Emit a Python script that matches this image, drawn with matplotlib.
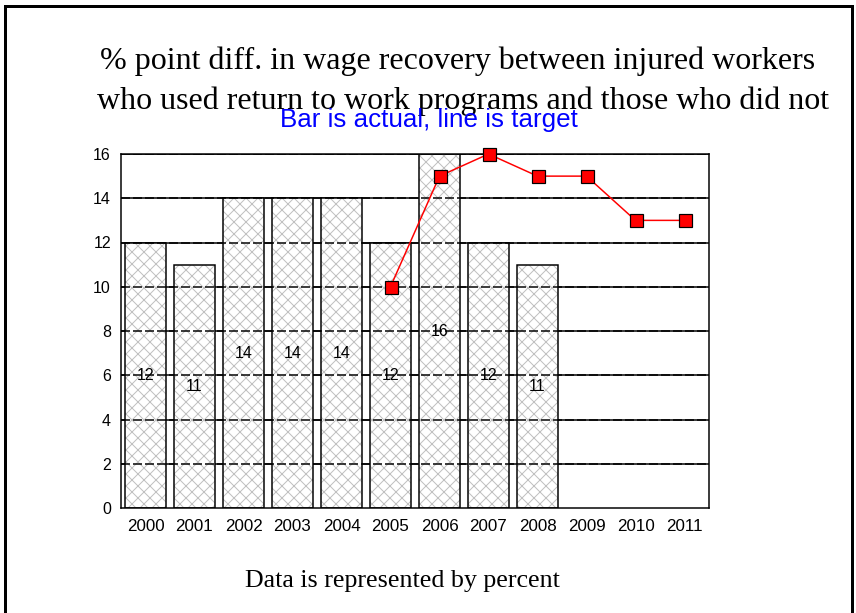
import matplotlib.pyplot as plt
from matplotlib.lines import Line2D

years = ['2000', '2001', '2002', '2003', '2004', '2005', '2006',
         '2007', '2008', '2009', '2010', '2011']
actual = [12, 11, 14, 14, 14, 12, 16, 12, 11]
target_years = ['2005', '2006', '2007', '2008', '2009', '2010', '2011']
target = [10, 15, 16, 15, 15, 13, 13]
y_ticks = [0, 2, 4, 6, 8, 10, 12, 14, 16]

title_lines = ['% point diff. in wage recovery between injured workers',
               'who used return to work programs and those who did not']
subtitle = 'Bar is actual, line is target'
footer = 'Data is represented by percent'

plt.rcParams['hatch.linewidth'] = 1.0

# dpi 72 so that font sizes in pt equal pixels
fig = plt.figure(figsize=(856 / 72, 613 / 72), dpi=72)
ax = fig.add_axes([121 / 856, 105 / 613, 588 / 856, 354 / 613])

x = list(range(len(years)))
ax.set_xlim(-0.5, len(years) - 0.5)
ax.set_ylim(0, 16)

# solid grid behind bars, dashed grid drawn over them
for t in y_ticks[1:]:
    ax.axhline(t, color='black', lw=1.5, zorder=0)

bx = x[:len(actual)]
# hatch layer (grey) and outline layer (black)
ax.bar(bx, actual, width=0.82, color='white', edgecolor='#c0c0c0',
       linewidth=0, hatch='xx', zorder=2)
ax.bar(bx, actual, width=0.82, fill=False, edgecolor='black',
       linewidth=1.5, zorder=2.5)

for t in y_ticks[1:]:
    ax.axhline(t, color='black', lw=1.5, ls=(0, (6, 2)), zorder=3)

for xi, v in zip(bx, actual):
    ax.text(xi, v / 2, str(v), ha='center', va='center', fontsize=16,
            family='Liberation Sans', zorder=4)

tx = [years.index(y) for y in target_years]
ax.plot(tx, target, color='red', lw=1.5, marker='s', markersize=13,
        markerfacecolor='red', markeredgecolor='black', markeredgewidth=1.2,
        zorder=5, clip_on=False)

ax.set_xticks(x)
ax.set_xticklabels(years, fontsize=17, family='Liberation Sans')
ax.set_yticks(y_ticks)
ax.set_yticklabels([str(t) for t in y_ticks], fontsize=16,
                   family='Liberation Sans')
ax.tick_params(axis='y', length=0, pad=10)
ax.tick_params(axis='x', length=0, pad=11)
for s in ax.spines.values():
    s.set_linewidth(1.5)

fig.text(458 / 856, 1 - 69 / 613, title_lines[0], ha='center',
         va='baseline', fontsize=32, family='Liberation Serif')
fig.text(463 / 856, 1 - 109 / 613, title_lines[1], ha='center',
         va='baseline', fontsize=32, family='Liberation Serif')
fig.text(429 / 856, 1 - 127 / 613, subtitle, ha='center', va='baseline',
         fontsize=26, family='Liberation Sans', color='blue')
fig.text(402 / 856, 1 - 587 / 613, footer, ha='center', va='baseline',
         fontsize=26, family='Liberation Serif')

# frame around the figure (bottom edge is cut off)
for xs, ys in [([5 / 856, 5 / 856], [0, 1 - 6 / 613]),
               ([5 / 856, 852 / 856], [1 - 6 / 613, 1 - 6 / 613]),
               ([852 / 856, 852 / 856], [1 - 6 / 613, 0])]:
    fig.add_artist(Line2D(xs, ys, color='black', lw=3))

fig.savefig('out.png', dpi=72)
